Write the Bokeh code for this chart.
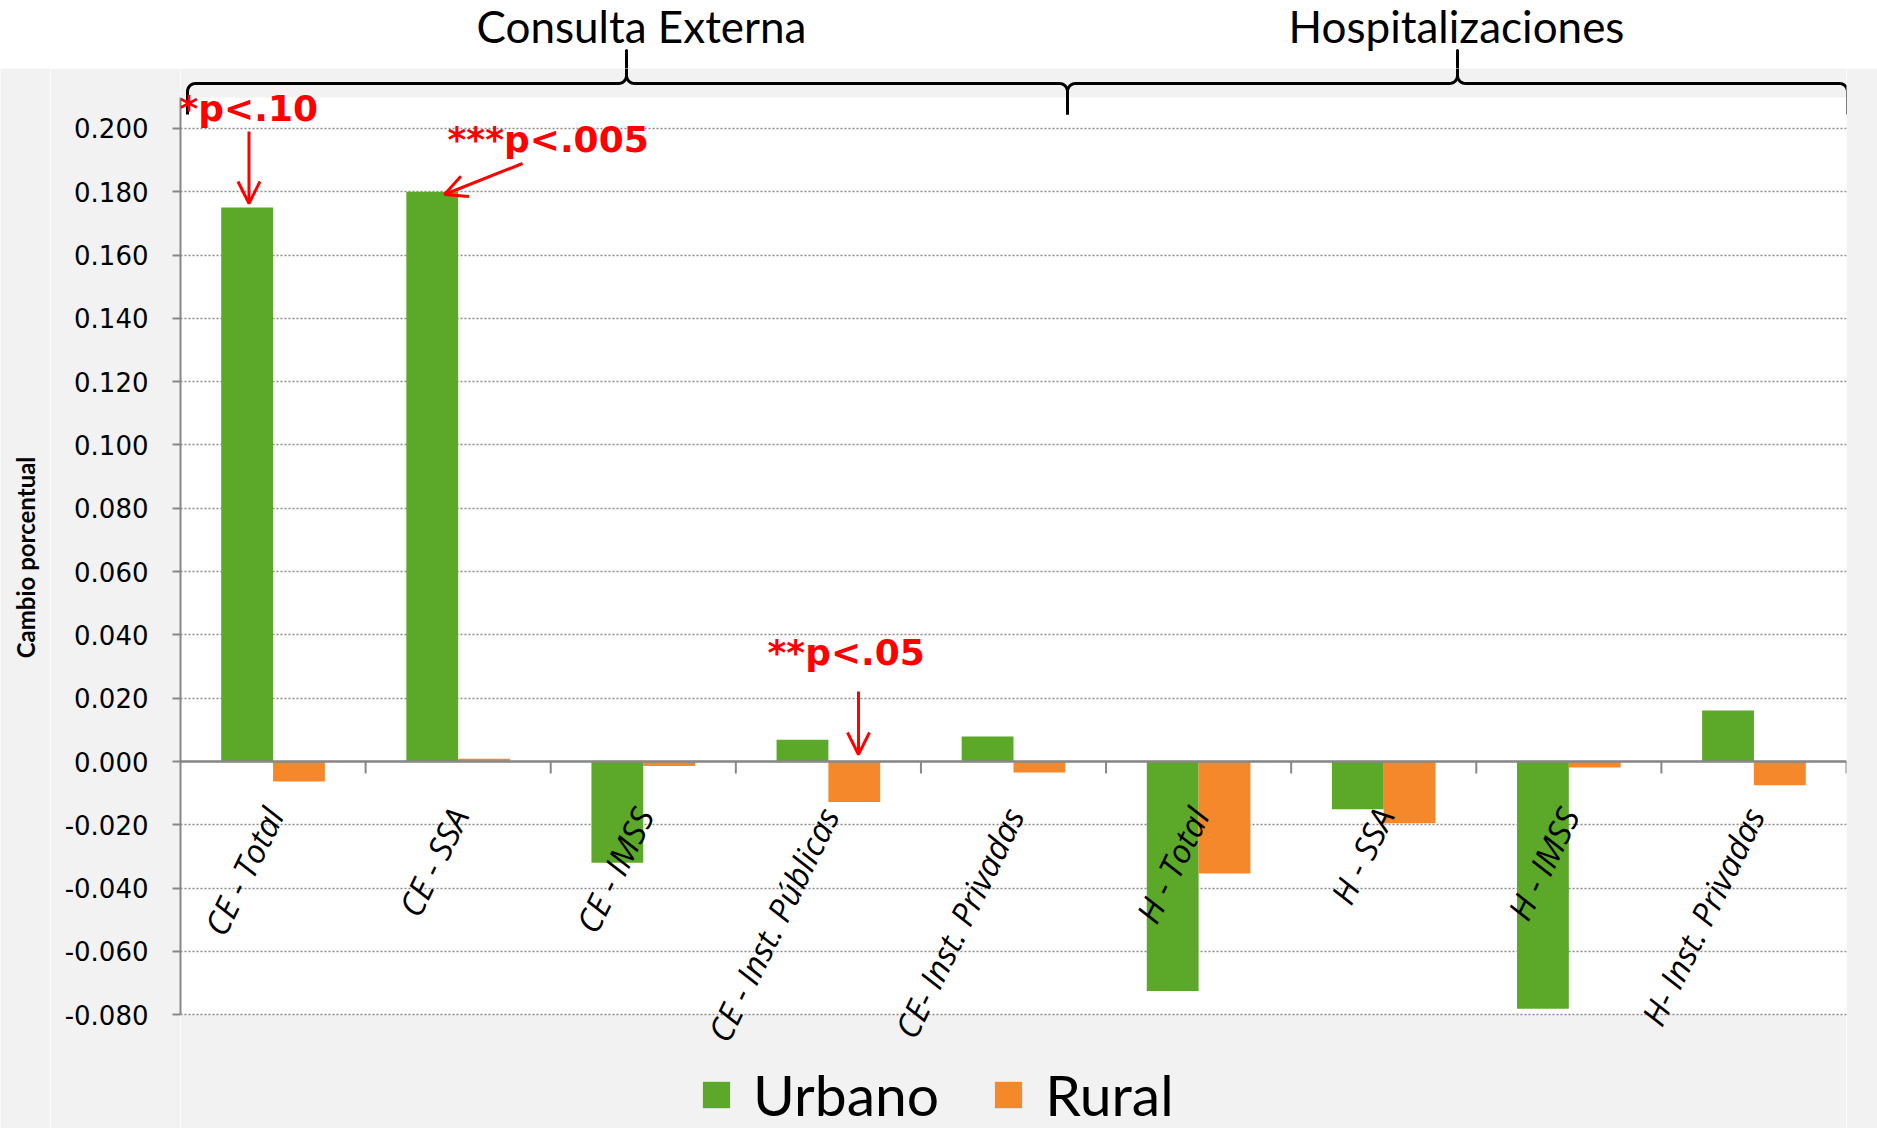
import numpy as np
from bokeh.plotting import figure
from bokeh.layouts import column, row
from bokeh.core.properties import value
from bokeh.models import (Range1d, FixedTicker, NumeralTickFormatter, Span, Label,
                          LabelSet, ColumnDataSource, Arrow, OpenHead, Legend, LegendItem)
from bokeh.embed import file_html
from bokeh.resources import INLINE

# ---------------- data ----------------
categories = ["CE - Total", "CE - SSA", "CE - IMSS", "CE - Inst. Públicas",
              "CE- Inst. Privadas", "H - Total", "H - SSA", "H - IMSS",
              "H- Inst. Privadas"]
urbano = [0.175, 0.180, -0.032, 0.0069, 0.0079, -0.0725, -0.0151, -0.0781, 0.0161]
rural = [-0.0063, 0.0009, -0.0014, -0.0128, -0.0035, -0.0354, -0.0195, -0.0019, -0.0075]
y_ticks = [-0.080, -0.060, -0.040, -0.020, 0.000, 0.020, 0.040, 0.060,
           0.080, 0.100, 0.120, 0.140, 0.160, 0.180, 0.200]
group_titles = ["Consulta Externa", "Hospitalizaciones"]
series_names = ["Urbano", "Rural"]
sig_texts = ["*p<.10", "***p<.005", "**p<.05"]
y_title = "Cambio porcentual"

GREEN = "#5ca829"
ORANGE = "#f4882a"
GRAY_BG = "#f2f2f2"

# ---------------- geometry (reference pixel space) ----------------
N = len(categories)
TOTAL_W = 1877
FRAME_LEFT_PX, FRAME_RIGHT_PX = 180, 1846
PLOT_TOP_PX, PLOT_BOTTOM_PX = 97, 1014.3
YMIN, YMAX = -0.080, 0.2098
FW = FRAME_RIGHT_PX - FRAME_LEFT_PX
XPX = FW / N
YPX = (PLOT_BOTTOM_PX - PLOT_TOP_PX) / (YMAX - YMIN)
ZERO_PX = 761
HEADER_BOTTOM_PX = 68
PAGE_TOP_PX, PAGE_BOTTOM_PX = 0, 1128
PAGE_LEFT = 0
LEFT_W = 50          # narrow strip holding the y title

def px2x(px):
    return (px - FRAME_LEFT_PX) / XPX

def px2y(py):
    return (ZERO_PX - py) / YPX

ML = FRAME_LEFT_PX - PAGE_LEFT
MR = TOTAL_W - FRAME_RIGHT_PX
xr = Range1d(0, N)
main_h = PAGE_BOTTOM_PX - HEADER_BOTTOM_PX
yr = Range1d(px2y(PAGE_BOTTOM_PX), px2y(HEADER_BOTTOM_PX))

# ---------------- header figure ----------------
hdr_h = HEADER_BOTTOM_PX - PAGE_TOP_PX
hdr = figure(frame_width=FW, frame_height=hdr_h, x_range=xr,
             y_range=Range1d(px2y(HEADER_BOTTOM_PX), px2y(PAGE_TOP_PX)),
             output_backend="svg", toolbar_location=None,
             x_axis_location=None, y_axis_location=None,
             min_border_left=ML, min_border_right=MR, min_border_top=0, min_border_bottom=0,
             background_fill_color="white", border_fill_color="white",
             outline_line_color=None)
hdr.grid.visible = False

# ---------------- left strip with y title ----------------
lft = figure(frame_width=LEFT_W, frame_height=main_h,
             x_range=Range1d(PAGE_LEFT, PAGE_LEFT + LEFT_W), y_range=yr,
             output_backend="svg", toolbar_location=None,
             x_axis_location=None, y_axis_location=None,
             min_border_left=0, min_border_right=0, min_border_top=0, min_border_bottom=0,
             background_fill_color=GRAY_BG, border_fill_color=GRAY_BG,
             outline_line_color=None)
lft.grid.visible = False
lft.add_layout(Label(x=25, y=px2y(557), text=y_title, angle=90, angle_units="deg",
                     text_align="center", text_baseline="middle", text_font="Lato",
                     text_font_style="bold", text_font_size="24px", text_color="black"))

# ---------------- main figure ----------------
p = figure(frame_width=FW, frame_height=main_h, x_range=xr, y_range=yr,
           output_backend="svg", toolbar_location=None, x_axis_location=None,
           min_border_left=ML - LEFT_W, min_border_right=MR, min_border_top=0,
           min_border_bottom=0, background_fill_color="white",
           border_fill_color=GRAY_BG, outline_line_color=None)

# gray bands inside frame (above plot area and below it)
p.quad(left=0, right=N, bottom=YMAX, top=px2y(HEADER_BOTTOM_PX) + 0.01,
       fill_color=GRAY_BG, line_color=None, level="image")
p.quad(left=0, right=N, bottom=px2y(PAGE_BOTTOM_PX) - 0.01, top=YMIN,
       fill_color=GRAY_BG, line_color=None, level="image")

# y axis
p.yaxis.bounds = (YMIN, YMAX)
p.yaxis.ticker = FixedTicker(ticks=y_ticks)
p.yaxis.formatter = NumeralTickFormatter(format="0.000")
p.yaxis.major_label_text_font = "DejaVu Sans"
p.yaxis.major_label_text_font_size = "26px"
p.yaxis.major_label_text_color = "black"
p.yaxis.major_tick_out = 8
p.yaxis.major_tick_in = 0
p.yaxis.minor_tick_out = 0
p.yaxis.minor_tick_in = 0
p.yaxis.major_label_standoff = 24
p.yaxis.axis_line_color = "#878787"
p.yaxis.axis_line_width = 2
p.yaxis.major_tick_line_color = "#878787"
p.yaxis.major_tick_line_width = 2

p.ygrid.ticker = FixedTicker(ticks=y_ticks)
p.ygrid.grid_line_color = "#8a8a8a"
p.ygrid.grid_line_dash = "2 2"
p.ygrid.grid_line_width = 1.5
p.xgrid.visible = False

# bars
idx = np.arange(N) + 0.5
src = ColumnDataSource(dict(cat=categories, xc=idx, xu=idx - 0.14, xr=idx + 0.14,
                            urbano=urbano, rural=rural))
r_u = p.vbar(x="xu", top="urbano", bottom=0, width=0.28, source=src,
             fill_color=GREEN, line_color=None)
r_r = p.vbar(x="xr", top="rural", bottom=0, width=0.28, source=src,
             fill_color=ORANGE, line_color=None)

# x axis line at zero + ticks at category boundaries
bounds = np.arange(1, N + 1)
p.segment(x0=bounds, y0=0, x1=bounds, y1=-12 / YPX, line_color="#878787", line_width=2)
p.add_layout(Span(location=0, dimension="width", line_color="#878787", line_width=2.5))

# category labels
p.add_layout(LabelSet(x="xc", y=-54 / YPX, text="cat", source=src, x_offset=12,
                      angle=64, angle_units="deg", text_align="right",
                      text_baseline="alphabetic", text_font=value("Open Sans"),
                      text_font_style="italic", text_font_size="33px",
                      text_color="black"))

# group titles (anchor corrected for the renderer's baseline offset)
title_x = [px2x(641), px2x(1456)]
for t, x in zip(group_titles, title_x):
    hdr.add_layout(Label(x=x, y=px2y(42 - 17), text=t, text_align="center",
                         text_baseline="alphabetic", text_font="Lato",
                         text_font_size="44px", text_color="black"))

# braces (drawn in both figures, each clips its own part)
def brace(xa_px, xm_px, xb_px, yl=83, yt=50, yb=114, r=8):
    t = np.linspace(0, np.pi / 2, 10)
    xs, ys = [xa_px], [yb]
    xs += list(xa_px + r * (1 - np.cos(t))); ys += list(yl + r * (1 - np.sin(t)))
    xs += list(xm_px - r + r * np.sin(t)); ys += list(yl - r + r * np.cos(t))
    xs += [xm_px]; ys += [yt]
    xs += list(xm_px + r - r * np.sin(t[::-1])); ys += list(yl - r + r * np.cos(t[::-1]))
    xs += list(xb_px - r * (1 - np.cos(t[::-1]))); ys += list(yl + r * (1 - np.sin(t[::-1])))
    xs += [xb_px]; ys += [yb]
    return [px2x(v) for v in xs], [px2y(v) for v in ys]

for xa, xm, xb in [(187, 626, 1067), (1067, 1457, 1847)]:
    bx, by = brace(xa, xm, xb)
    for fig in (hdr, p):
        fig.line(bx, by, line_color="black", line_width=3, line_join="round")

# significance annotations
sig_pos = [(px2x(179), px2y(121 - 13)), (px2x(447), px2y(152 - 13)),
           (px2x(767), px2y(665 - 13))]
for t, (x, y) in zip(sig_texts, sig_pos):
    p.add_layout(Label(x=x, y=y, text=t, text_align="left", text_baseline="alphabetic",
                       text_font="DejaVu Sans", text_font_style="bold",
                       text_font_size="36px", text_color="#ff0000"))

arrows = [((0.37, px2y(131)), (0.37, px2y(203))),
          ((px2x(522), px2y(163)), (px2x(444), px2y(194))),
          ((px2x(858), px2y(691)), (px2x(858), px2y(754)))]
for (xs_, ys_), (xe, ye) in arrows:
    p.add_layout(Arrow(x_start=xs_, y_start=ys_, x_end=xe, y_end=ye,
                       line_color="#ff0000", line_width=3,
                       end=OpenHead(line_color="#ff0000", line_width=3, size=22)))

# legend
legend = Legend(items=[LegendItem(label=series_names[0], renderers=[r_u]),
                       LegendItem(label=series_names[1], renderers=[r_r])],
                location=(519, 0), orientation="horizontal",
                label_text_font="Lato", label_text_font_size="57px",
                label_text_color="black",
                glyph_width=34, glyph_height=33, label_standoff=20, spacing=52,
                padding=0, margin=0, background_fill_alpha=0, border_line_alpha=0)
p.add_layout(legend)

layout = column(hdr, row(lft, p, spacing=0), spacing=0)
open("out.html", "w").write(file_html(layout, INLINE))
